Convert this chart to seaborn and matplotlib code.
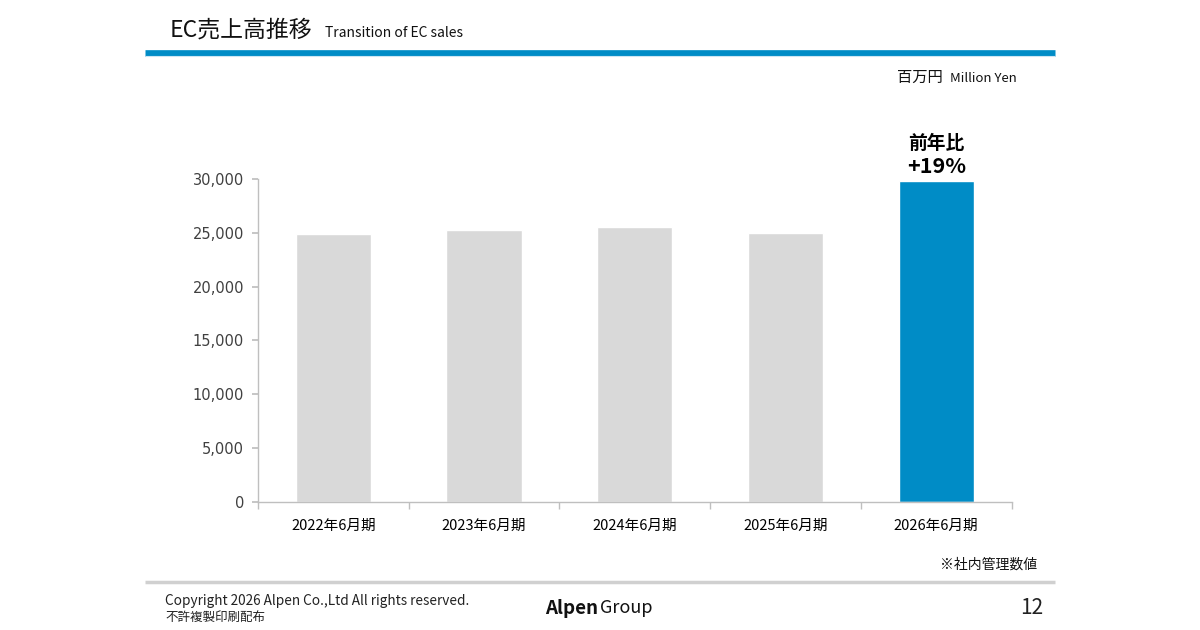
import matplotlib
matplotlib.use("Agg")
import matplotlib.pyplot as plt
import seaborn as sns
import pandas as pd
from matplotlib.lines import Line2D
from matplotlib.ticker import FixedLocator

# ---- data ----
categories = ["2022年6月期", "2023年6月期", "2024年6月期", "2025年6月期", "2026年6月期"]
sales = [24900, 25250, 25550, 25000, 29800]
bar_colors = ["#D9D9D9", "#D9D9D9", "#D9D9D9", "#D9D9D9", "#008CC6"]
yticks = [0, 5000, 10000, 15000, 20000, 25000, 30000]
yoy_title = "前年比"
yoy_value = "+19%"

sns.set_theme(style="white")
plt.rcParams['font.family'] = ['Noto Sans CJK JP', 'DejaVu Sans']

fig = plt.figure(figsize=(12, 6.3), dpi=100)
ax = fig.add_axes([0.215, 0.2032, 0.628, 0.5127])

df = pd.DataFrame({"period": categories, "sales": sales})
sns.barplot(data=df, x="period", y="sales", hue="period", palette=bar_colors,
            legend=False, width=0.5, ax=ax, saturation=1)

ax.set_ylim(yticks[0], yticks[-1])
ax.set_xlim(-0.5, len(categories) - 0.5)
ax.set_yticks(yticks, [f"{v:,}" for v in yticks], fontfamily="DejaVu Sans",
              fontsize=10.5, color="#404040")
ax.set_xlabel("")
ax.set_ylabel("")
for s in ["top", "right"]:
    ax.spines[s].set_visible(False)
for s in ["left", "bottom"]:
    ax.spines[s].set_color("#BFBFBF")
    ax.spines[s].set_linewidth(1.0)

ax.tick_params(axis="y", which="major", length=4, color="#BFBFBF", pad=6, left=True)
ax.tick_params(axis="x", which="major", length=0, labelsize=10.5, labelcolor="#000000", pad=12)
ax.xaxis.set_minor_locator(FixedLocator([i - 0.5 for i in range(len(categories) + 1)]))
ax.tick_params(axis="x", which="minor", length=5, color="#BFBFBF", bottom=True)

# YoY annotation above last bar
last = len(categories) - 1
ax.annotate(yoy_value, xy=(last, sales[-1]), xytext=(0, 3),
            textcoords="offset points", ha="center", va="bottom",
            fontsize=15.5, fontweight="bold", color="#000000")
ax.annotate(yoy_title, xy=(last, sales[-1]), xytext=(0, 20.5),
            textcoords="offset points", ha="center", va="bottom",
            fontsize=13.5, fontweight="bold", color="#000000")

# ---- header ----
fig.text(170 / 1200, 1 - 30 / 630, "EC売上高推移", fontsize=16.5, va="center", ha="left", color="#111111")
fig.text(325 / 1200, 1 - 33 / 630, "Transition of EC sales", fontsize=10, va="center", ha="left", color="#111111")
fig.add_artist(Line2D([145 / 1200, 1055 / 1200], [1 - 52.5 / 630] * 2, color="#008CC6", lw=4.8,
                      transform=fig.transFigure, solid_capstyle="butt"))
fig.add_artist(Line2D([145 / 1200, 1055 / 1200], [1 - 56 / 630] * 2, color="#CDE6F3", lw=0.8,
                      transform=fig.transFigure, solid_capstyle="butt"))

fig.text(943 / 1200, 1 - 77 / 630, "百万円", fontsize=11, va="center", ha="right", color="#111111")
fig.text(1017 / 1200, 1 - 78 / 630, "Million Yen", fontsize=9.5, va="center", ha="right", color="#111111")

fig.text(1037 / 1200, 1 - 565 / 630, "※社内管理数値", fontsize=10, va="center", ha="right", color="#111111")

# ---- footer ----
fig.add_artist(Line2D([145 / 1200, 1055 / 1200], [1 - 582 / 630] * 2, color="#D0D0D0", lw=2.5,
                      transform=fig.transFigure, solid_capstyle="butt"))
fig.text(165 / 1200, 1 - 601 / 630, "Copyright 2026 Alpen Co.,Ltd All rights reserved.", fontsize=9.8,
         va="center", ha="left", color="#222222")
fig.text(165 / 1200, 1 - 617 / 630, "不許複製印刷配布", fontsize=9, va="center", ha="left", color="#222222")
fig.text(545 / 1200, 1 - 608 / 630, "Alpen", fontsize=13.5, fontweight="bold", va="center", ha="left",
         color="#111111")
fig.text(600 / 1200, 1 - 608 / 630, "Group", fontsize=13, va="center", ha="left", color="#111111")
fig.text(1043 / 1200, 1 - 608 / 630, "12", fontsize=15, va="center", ha="right", color="#222222")

fig.savefig("out.png", dpi=100)
